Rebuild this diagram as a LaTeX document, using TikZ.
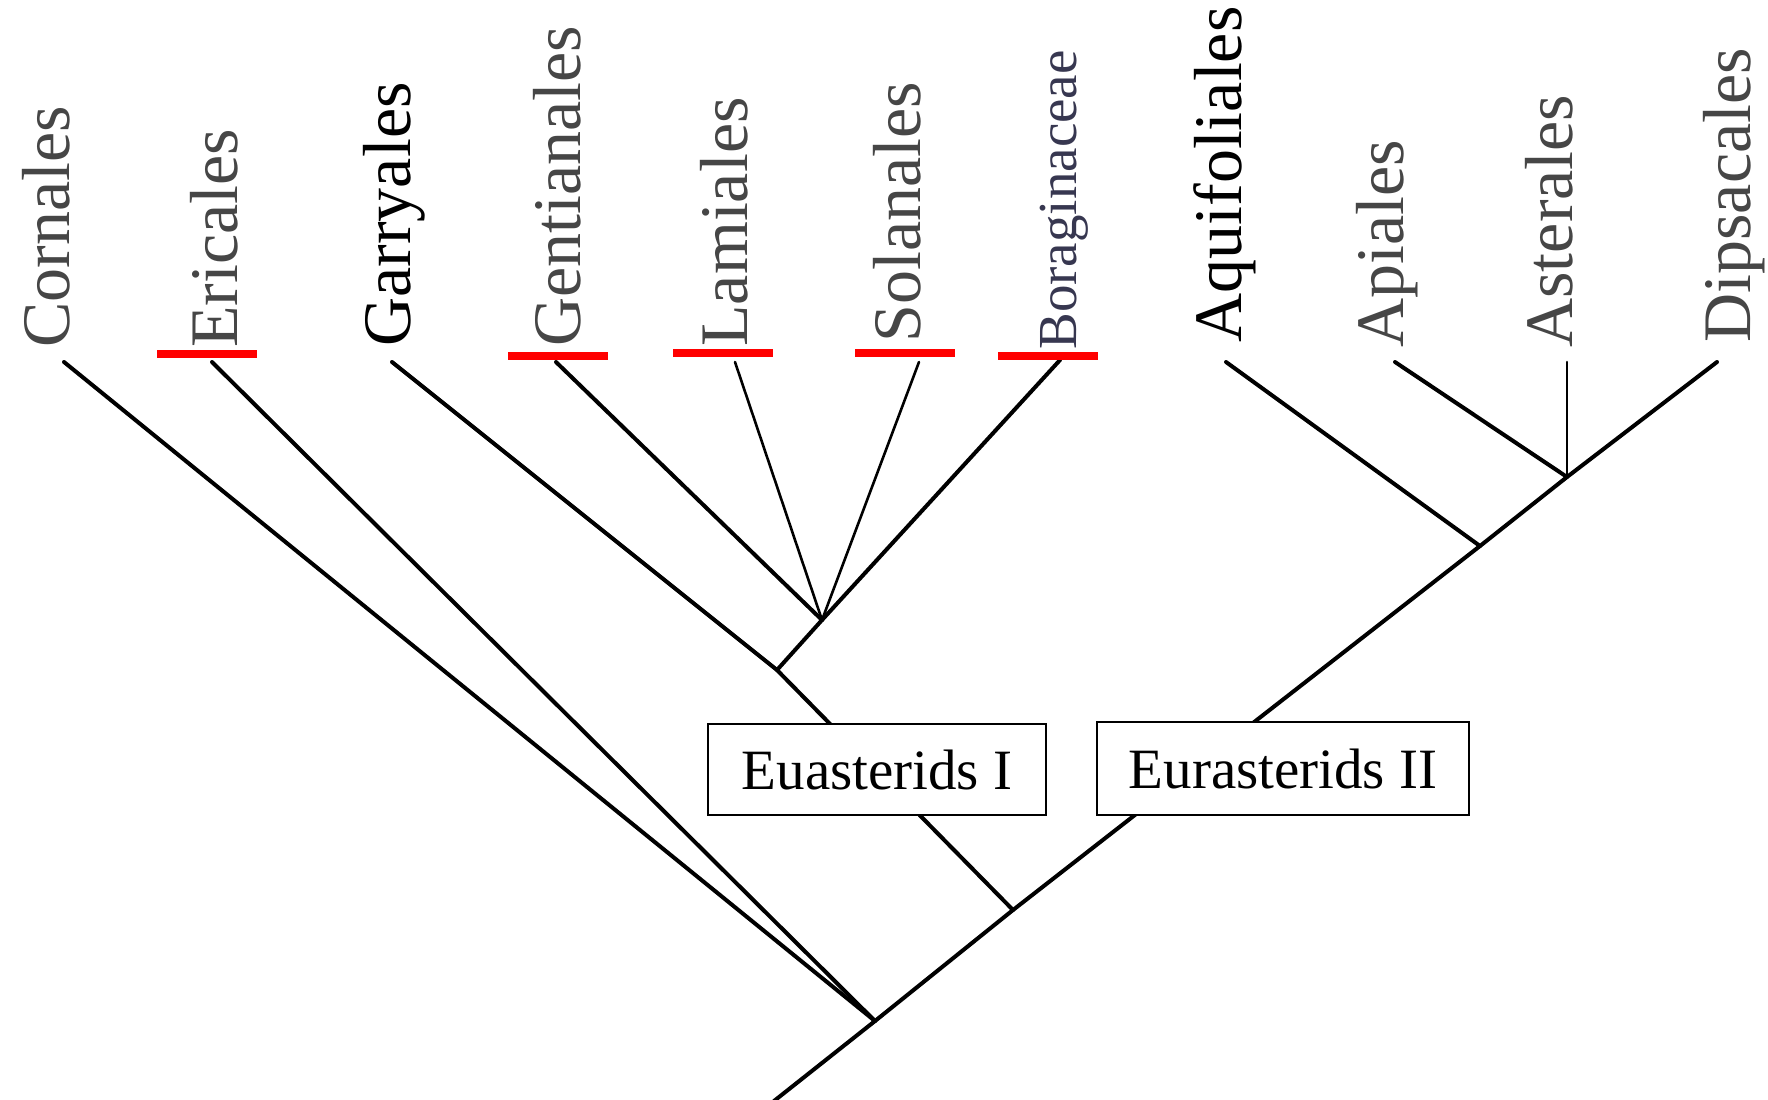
\documentclass[tikz,border=0pt]{standalone}
\usepackage{fontspec}
\setmainfont{Liberation Serif}
\definecolor{labgray}{RGB}{70,70,70}
\definecolor{borcol}{RGB}{55,55,80}
\begin{document}
\begin{tikzpicture}[x=0.5pt,y=-0.5pt,
  branch/.style={line width=2pt, line cap=round},
  thinbranch/.style={line width=1.3pt, line cap=round},
  taxon/.style={rotate=90, anchor=base west, inner sep=0pt,
    font=\fontsize{34}{34}\selectfont, text=labgray},
  cladebox/.style={draw, line width=0.8pt, fill=white, inner sep=0pt,
    font=\fontsize{28.5}{30}\selectfont},
  redbar/.style={fill=red, inner sep=0pt, minimum width=50pt, minimum height=4pt}]
\useasboundingbox (0,0) rectangle (1768,1099);

% junctions and tips
\coordinate (base) at (774,1101);
\coordinate (R) at (875,1021);
\coordinate (E) at (1013,910);
\coordinate (EI) at (777,670);
\coordinate (P) at (822,620);
\coordinate (EII) at (1480,546);
\coordinate (A) at (1567,477);

\coordinate (tCor) at (64,362);
\coordinate (tEri) at (212,362);
\coordinate (tGar) at (392,362);
\coordinate (tGen) at (556,362);
\coordinate (tLam) at (735,362);
\coordinate (tSol) at (919,362);
\coordinate (tBor) at (1060,360);
\coordinate (tAqu) at (1226,362);
\coordinate (tApi) at (1395,362);
\coordinate (tAst) at (1567,362);
\coordinate (tDip) at (1717,362);

% branches
\draw[branch] (base) -- (R) -- (E) -- (EII) -- (A) -- (tDip);
\draw[branch] (tCor) -- (R);
\draw[branch] (tEri) -- (R);
\draw[branch] (E) -- (EI) -- (tGar);
\draw[branch] (EI) -- (P);
\draw[branch] (tGen) -- (P);
\draw[thinbranch] (tLam) -- (P);
\draw[thinbranch] (tSol) -- (P);
\draw[branch] (tBor) -- (P);
\draw[branch] (tAqu) -- (EII);
\draw[branch] (tApi) -- (A);
\draw[thinbranch] (tAst) -- (A);

% clade boxes
\node[cladebox, minimum width=169pt, minimum height=45.5pt] (boxI) at (877,769.5) {Euasterids I};
\node[cladebox, minimum width=186pt, minimum height=46.5pt] (boxII) at (1283,768.5) {Eurasterids II};

% taxon labels
\node[taxon] (lCor) at (69,348) {Cornales};
\node[taxon] (lEri) at (237,348) {Ericales};
\node[taxon, text=black] (lGar) at (410,347) {Garryales};
\node[taxon] (lGen) at (580,347) {Gentianales};
\node[taxon] (lLam) at (747,347) {Lamiales};
\node[taxon] (lSol) at (920,343) {Solanales};
\node[taxon, font=\fontsize{27.5}{27.5}\selectfont, text=borcol] (lBor) at (1076,350) {Boraginaceae};
\node[taxon, text=black] (lAqu) at (1241,343) {Aquifoliales};
\node[taxon] (lApi) at (1403,348) {Apiales};
\node[taxon] (lAst) at (1572,348) {Asterales};
\node[taxon] (lDip) at (1750,343) {Dipsacales};

% red underlines
\node[redbar] (uEri) at (207,354) {};
\node[redbar] (uGen) at (558,356) {};
\node[redbar] (uLam) at (723,353) {};
\node[redbar] (uSol) at (905,353) {};
\node[redbar] (uBor) at (1048,356) {};
\end{tikzpicture}
\end{document}
